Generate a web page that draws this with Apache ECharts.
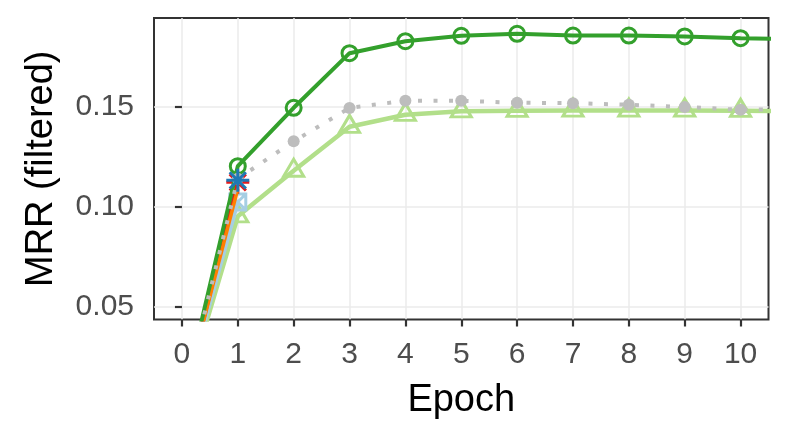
<!DOCTYPE html>
<html>
<head>
<meta charset="utf-8">
<script src="https://cdn.jsdelivr.net/npm/echarts@6/dist/echarts.min.js"></script>
<style>
html,body{margin:0;padding:0;background:#fff;}
#chart{width:789px;height:446px;}
</style>
</head>
<body>
<div id="chart"></div>
<script>
// Data (MRR filtered per epoch)
const epochs = [0, 1, 2, 3, 4, 5, 6, 7, 8, 9, 10, 11];
const xTicks = [0, 1, 2, 3, 4, 5, 6, 7, 8, 9, 10];
const yTicks = [0.05, 0.10, 0.15];
const darkGreen = [0.001, 0.1203, 0.1495, 0.1768, 0.1828, 0.1855, 0.1865, 0.1856, 0.1856, 0.1852, 0.1843, 0.1837];
const grayDotted = [0.001, 0.1140, 0.1327, 0.1494, 0.1530, 0.1530, 0.1520, 0.1518, 0.1510, 0.1499, 0.1485, 0.1488];
const lightGreen = [0.001, 0.0952, 0.1180, 0.1400, 0.1460, 0.1477, 0.1480, 0.1481, 0.1481, 0.1481, 0.1480, 0.1479];
const lightBlue = [0.001, 0.1024];
const blueEpochs = [1];
const blue = [0.1132];
const red = [0.001, 0.1122];
const orange = [0.001, 0.1090];

const FONT = 'Liberation Sans';
const pair = (vals, xs) => vals.map((v, i) => [(xs || epochs)[i], v]);

const asterisk = 'path://M0,-1L0,1M-1,0L1,0M-0.7071,-0.7071L0.7071,0.7071M-0.7071,0.7071L0.7071,-0.7071';
const squareCross = 'path://M-1,-1L1,-1L1,1L-1,1ZM-1,-1L1,1M-1,1L1,-1';

function hollow(color, bw) {
  return { color: 'rgba(0,0,0,0)', borderColor: color, borderWidth: bw };
}

const chart = echarts.init(document.getElementById('chart'), null, { renderer: 'canvas' });
chart.setOption({
  animation: false,
  backgroundColor: '#ffffff',
  grid: {
    left: 154, right: 20.5, top: 18, bottom: 126.5,
    show: true, borderColor: '#333333', borderWidth: 2, backgroundColor: 'transparent',
    containLabel: false
  },
  xAxis: {
    type: 'value', min: -0.5, max: 10.5,
    name: 'Epoch', nameLocation: 'middle', nameGap: 62,
    nameTextStyle: { fontFamily: FONT, fontSize: 38, color: '#000000' },
    axisLine: { show: false },
    axisTick: { show: true, length: 7, customValues: xTicks, lineStyle: { color: '#333333', width: 2.2 } },
    axisLabel: { customValues: xTicks, margin: 20, fontFamily: FONT, fontSize: 30, color: '#4d4d4d' },
    splitLine: { show: true, lineStyle: { color: '#ebebeb', width: 1.5 } }
  },
  yAxis: {
    type: 'value', min: 0.0436, max: 0.1944,
    name: 'MRR (filtered)', nameLocation: 'middle', nameGap: 93, nameRotate: 90,
    nameTextStyle: { fontFamily: FONT, fontSize: 38, color: '#000000' },
    axisLine: { show: false },
    axisTick: { show: true, length: 7, customValues: yTicks, lineStyle: { color: '#333333', width: 2.2 } },
    axisLabel: { customValues: yTicks, margin: 20, fontFamily: FONT, fontSize: 30, color: '#4d4d4d',
      formatter: (v) => v.toFixed(2) },
    splitLine: { show: true, lineStyle: { color: '#ebebeb', width: 1.5 } }
  },
  series: [
    {
      name: 'lightGreen', type: 'line', data: pair(lightGreen), clip: true, z: 2,
      symbol: 'triangle', symbolSize: [20, 17], symbolOffset: [0, -3],
      itemStyle: hollow('#b2df8a', 3),
      lineStyle: { color: '#b2df8a', width: 4.5 }
    },
    {
      name: 'lightBlue', type: 'line', data: pair(lightBlue), clip: true, z: 3,
      symbol: squareCross, symbolSize: 16,
      itemStyle: hollow('#a6cee3', 3),
      lineStyle: { color: '#a6cee3', width: 4 }
    },
    {
      name: 'red', type: 'line', data: pair(red), clip: true, z: 4,
      symbol: asterisk, symbolSize: 23,
      itemStyle: hollow('#e31a1c', 3),
      lineStyle: { color: '#e31a1c', width: 4 }
    },
    {
      name: 'orange', type: 'line', data: pair(orange), clip: true, z: 5,
      symbol: 'none',
      lineStyle: { color: '#ff7f00', width: 3.5 }
    },
    {
      name: 'darkGreen', type: 'line', data: pair(darkGreen), clip: true, z: 6,
      symbol: 'circle', symbolSize: 15,
      itemStyle: hollow('#33a02c', 3),
      lineStyle: { color: '#33a02c', width: 4 }
    },
    {
      name: 'gray', type: 'line', data: pair(grayDotted), clip: true, z: 7,
      symbol: 'circle', symbolSize: 12,
      itemStyle: { color: '#bdbdbd' },
      lineStyle: { color: '#bdbdbd', width: 4, type: [4, 11.5], cap: 'butt' }
    },
    {
      name: 'blue', type: 'line', data: pair(blue, blueEpochs), clip: true, z: 8,
      symbol: asterisk, symbolSize: 23, showSymbol: true,
      itemStyle: hollow('#1f78b4', 3),
      lineStyle: { color: '#1f78b4', width: 4 }
    }
  ]
});
</script>
</body>
</html>
